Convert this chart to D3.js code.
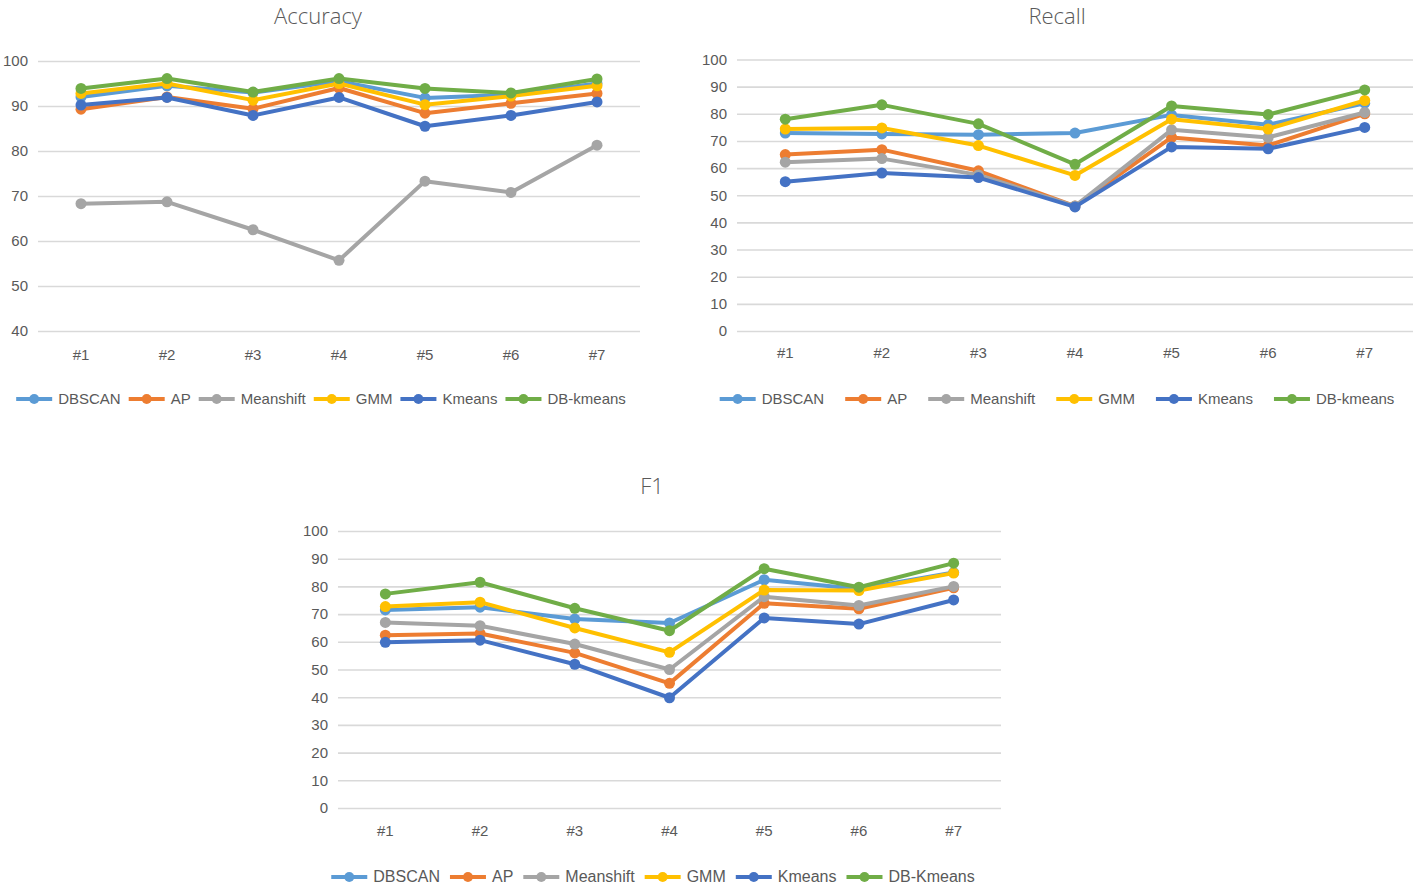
<!DOCTYPE html>
<html>
<head>
<meta charset="utf-8">
<script src="https://cdn.jsdelivr.net/npm/d3@7"></script>
<style>
  html, body { margin: 0; padding: 0; background: #fff; }
  svg { display: block; }
  text { font-family: "Liberation Sans Narrow", "DejaVu Sans Condensed", "Open Sans", sans-serif; fill: #595959; }
</style>
</head>
<body>
<svg id="chart" width="1416" height="887"></svg>
<script>
const categories = ["#1", "#2", "#3", "#4", "#5", "#6", "#7"];
const seriesColors = ["#5B9BD5", "#ED7D31", "#A5A5A5", "#FFC000", "#4472C4", "#70AD47"];

// Accuracy
const accNames = ["DBSCAN", "AP", "Meanshift", "GMM", "Kmeans", "DB-kmeans"];
const accDBSCAN    = [92.0, 94.5, 93.0, 95.5, 91.8, 92.5, 95.0];
const accAP        = [89.3, 92.0, 89.4, 94.0, 88.4, 90.6, 92.8];
const accMeanshift = [68.3, 68.7, 62.5, 55.7, 73.3, 70.8, 81.3];
const accGMM       = [92.8, 95.0, 91.3, 95.0, 90.3, 92.2, 94.5];
const accKmeans    = [90.2, 91.9, 87.9, 91.9, 85.5, 87.9, 90.9];
const accDBkmeans  = [93.9, 96.1, 93.1, 96.1, 93.9, 92.9, 96.0];
const accTicks = [40, 50, 60, 70, 80, 90, 100];

// Recall
const recNames = ["DBSCAN", "AP", "Meanshift", "GMM", "Kmeans", "DB-kmeans"];
const recDBSCAN    = [72.9, 72.6, 72.3, 72.9, 79.6, 76.0, 83.9];
const recAP        = [65.0, 66.8, 59.0, 46.0, 71.3, 68.3, 80.0];
const recMeanshift = [62.2, 63.5, 57.5, 46.0, 74.1, 71.3, 80.5];
const recGMM       = [74.4, 74.8, 68.3, 57.3, 78.0, 74.4, 84.9];
const recKmeans    = [55.0, 58.2, 56.5, 45.7, 67.8, 67.1, 75.0];
const recDBkmeans  = [78.0, 83.3, 76.3, 61.4, 82.9, 79.7, 88.8];
const recTicks = [0, 10, 20, 30, 40, 50, 60, 70, 80, 90, 100];

// F1
const f1Names = ["DBSCAN", "AP", "Meanshift", "GMM", "Kmeans", "DB-Kmeans"];
const f1DBSCAN    = [71.5, 72.5, 68.2, 66.8, 82.4, 79.1, 85.0];
const f1AP        = [62.4, 63.0, 56.0, 45.0, 73.9, 71.9, 79.5];
const f1Meanshift = [67.0, 65.8, 59.2, 50.0, 76.3, 73.1, 80.0];
const f1GMM       = [72.7, 74.3, 65.0, 56.2, 78.7, 78.5, 84.8];
const f1Kmeans    = [59.8, 60.6, 51.9, 39.8, 68.6, 66.4, 75.1];
const f1DBkmeans  = [77.3, 81.5, 72.1, 64.0, 86.4, 79.7, 88.4];
const f1Ticks = [0, 10, 20, 30, 40, 50, 60, 70, 80, 90, 100];

const svg = d3.select("#chart");

function drawChart(opt) {
  const g = svg.append("g");
  const x = d3.scaleBand().domain(categories).range([opt.x0, opt.x1]);
  const y = d3.scaleLinear().domain([opt.ticks[0], opt.ticks[opt.ticks.length - 1]]).range([opt.yBottom, opt.yTop]);

  // title
  g.append("text").attr("x", opt.titleX).attr("y", opt.titleY)
    .attr("text-anchor", "middle").attr("font-size", 22).attr("fill", "#595959")
    .style("font-family", "'Open Sans', sans-serif").style("font-weight", 300)
    .text(opt.title);

  // gridlines
  const yAxis = d3.axisLeft(y).tickValues(opt.ticks).tickSize(-(opt.x1 - opt.x0)).tickPadding(10).tickFormat(d3.format("d"));
  const ya = g.append("g").attr("transform", `translate(${opt.x0},0)`).call(yAxis);
  ya.select(".domain").remove();
  ya.selectAll(".tick line").attr("stroke", "#d9d9d9").attr("stroke-width", 1.6);
  ya.selectAll(".tick text").attr("font-size", 15).attr("fill", "#595959")
    .style("font-family", "'Liberation Sans Narrow', sans-serif");

  // x axis labels
  const xAxis = d3.axisBottom(x).tickSize(0).tickPadding(0);
  const xa = g.append("g").attr("transform", `translate(0,${opt.xLabelY})`).call(xAxis);
  xa.select(".domain").remove();
  xa.selectAll(".tick text").attr("font-size", 15).attr("fill", "#595959")
    .style("font-family", "'Liberation Sans Narrow', sans-serif");

  const line = d3.line().x((d, i) => x(categories[i]) + x.bandwidth() / 2).y(d => y(d));

  opt.series.forEach((s, k) => {
    g.append("path").datum(s).attr("fill", "none").attr("stroke", seriesColors[k])
      .attr("stroke-width", 4).attr("stroke-linejoin", "round").attr("d", line);
    g.selectAll(null).data(s).enter().append("circle")
      .attr("cx", (d, i) => x(categories[i]) + x.bandwidth() / 2)
      .attr("cy", d => y(d)).attr("r", 5.5).attr("fill", seriesColors[k]);
  });

  // legend
  const lg = g.append("g");
  let cx = 0;
  opt.names.forEach((n, k) => {
    const it = lg.append("g");
    it.append("line").attr("x1", 0).attr("x2", 36).attr("y1", 0).attr("y2", 0)
      .attr("stroke", seriesColors[k]).attr("stroke-width", 4);
    it.append("circle").attr("cx", 18).attr("cy", 0).attr("r", 5).attr("fill", seriesColors[k]);
    const t = it.append("text").attr("x", 42).attr("y", 5).attr("font-size", opt.legendFont)
      .style("font-family", "'Liberation Sans Narrow', sans-serif").attr("fill", "#595959").text(n);
    const w = 42 + t.node().getComputedTextLength();
    it.attr("transform", `translate(${cx},${opt.legendY})`);
    cx += w + opt.legendGap;
  });
  const total = cx - opt.legendGap;
  lg.attr("transform", `translate(${opt.legendCenter - total / 2},0)`);
}

drawChart({
  title: "Accuracy", titleX: 318, titleY: 24,
  x0: 38, x1: 640, yTop: 61, yBottom: 331, ticks: accTicks, xLabelY: 349,
  series: [accDBSCAN, accAP, accMeanshift, accGMM, accKmeans, accDBkmeans],
  names: accNames, legendY: 399, legendCenter: 321, legendGap: 8, legendFont: 15
});

drawChart({
  title: "Recall", titleX: 1057, titleY: 24,
  x0: 737, x1: 1413, yTop: 59.5, yBottom: 331, ticks: recTicks, xLabelY: 347,
  series: [recDBSCAN, recAP, recMeanshift, recGMM, recKmeans, recDBkmeans],
  names: recNames, legendY: 399, legendCenter: 1057, legendGap: 21, legendFont: 15
});

drawChart({
  title: "F1", titleX: 652, titleY: 494,
  x0: 338, x1: 1001, yTop: 531, yBottom: 808, ticks: f1Ticks, xLabelY: 825,
  series: [f1DBSCAN, f1AP, f1Meanshift, f1GMM, f1Kmeans, f1DBkmeans],
  names: f1Names, legendY: 877, legendCenter: 653, legendGap: 10, legendFont: 16
});
</script>
</body>
</html>
